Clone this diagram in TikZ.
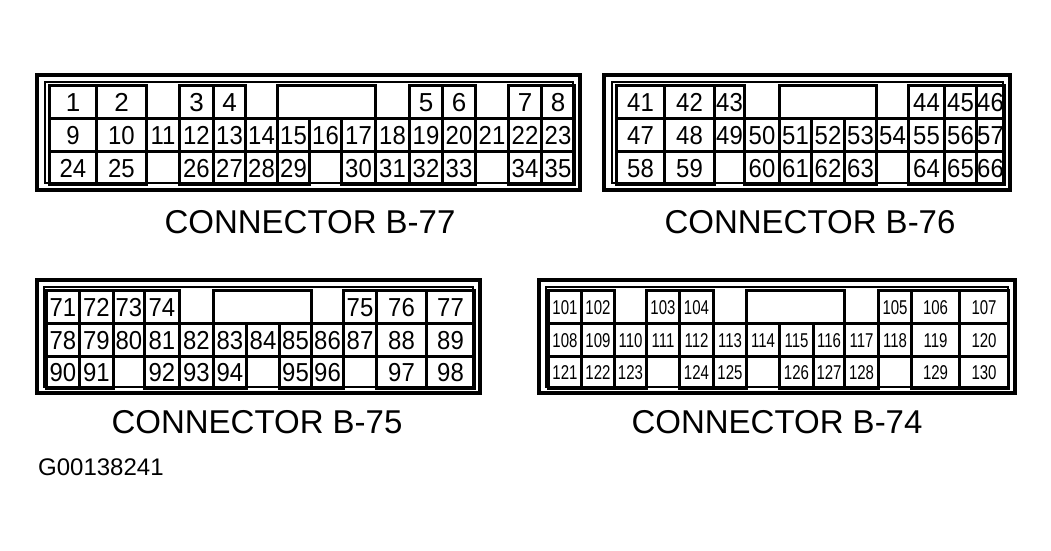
\documentclass[tikz,border=0pt]{standalone}
\usepackage{fontspec}
\setmainfont{Liberation Sans}
\begin{document}
\begin{tikzpicture}[x=1pt,y=-1pt,
  cell/.style={draw,line width=3pt,inner sep=0pt,anchor=north west,text depth=0pt},
  frame/.style={draw,line width=4pt},
  iframe/.style={draw,line width=2pt},
  title/.style={font=\fontsize{33}{33}\selectfont,inner sep=0pt}]
\useasboundingbox (0,0) rectangle (1051,550);
\newcommand{\crow}[5]{% y1, y2, scale, fontsize, list
  \foreach \a/\b/\l in {#5}{
    \node[cell,minimum width={(\b-\a)*1pt},minimum height={(#2-#1)*1pt},
      text height={0.716*#4pt},
      font=\fontsize{#4}{#4}\selectfont] (c\l) at (\a,#1)
      {\scalebox{#3}[1]{\ifnum\l>900 \else\l\fi}};
  }}
% B-77
\draw[frame] (37,75) rectangle (580,190);
\draw[iframe] (45,82) rectangle (573,183);
\crow{84}{117}{1}{26}{48/95/1,95/145/2,178/212/3,212/244/4,276/374/901,408/441/5,441/474/6,507/540/7,540/573/8}
\crow{117}{150}{0.92}{26}{48/95/9,95/145/10,145/178/11,178/212/12,212/244/13,244/276/14,276/308/15,308/340/16,340/374/17,374/408/18,408/441/19,441/474/20,474/507/21,507/540/22,540/573/23}
\crow{150}{183}{0.92}{26}{48/95/24,95/145/25,178/212/26,212/244/27,244/276/28,276/308/29,340/374/30,374/408/31,408/441/32,441/474/33,507/540/34,540/573/35}
\node[title] (t77) at (310,222) {CONNECTOR B-77};
% B-76
\draw[frame] (604,75) rectangle (1010,190);
\draw[iframe] (612,82) rectangle (1003,183);
\crow{84}{117}{0.92}{26}{615/663/41,663/713/42,713/743/43,778/875/902,907/943/44,943/975/45,975/1003/46}
\crow{117}{150}{0.92}{26}{615/663/47,663/713/48,713/743/49,743/778/50,778/810/51,810/843/52,843/875/53,875/907/54,907/943/55,943/975/56,975/1003/57}
\crow{150}{183}{0.92}{26}{615/663/58,663/713/59,743/778/60,778/810/61,810/843/62,843/875/63,907/943/64,943/975/65,975/1003/66}
\node[title] (t76) at (810,222) {CONNECTOR B-76};
% B-75
\draw[frame] (37,280) rectangle (480,393);
\draw[iframe] (44,287) rectangle (473,387);
\crow{289}{322}{0.92}{26}{45/78/71,78/112/72,112/143/73,143/178/74,212/310/903,342/375/75,375/425/76,425/473/77}
\crow{322}{355}{0.92}{26}{45/78/78,78/112/79,112/143/80,143/178/81,178/212/82,212/245/83,245/278/84,278/310/85,310/342/86,342/375/87,375/425/88,425/473/89}
\crow{355}{387}{0.92}{26}{45/78/90,78/112/91,143/178/92,178/212/93,212/245/94,278/310/95,310/342/96,375/425/97,425/473/98}
\node[title] (t75) at (257,422) {CONNECTOR B-75};
% B-74
\draw[frame] (539,280) rectangle (1015,393);
\draw[iframe] (546,287) rectangle (1008,387);
\crow{289}{322}{0.75}{20}{547/580/101,580/613/102,645/678/103,678/712/104,745/843/904,877/910/105,910/958/106,958/1007/107}
\crow{322}{355}{0.75}{20}{547/580/108,580/613/109,613/645/110,645/678/111,678/712/112,712/745/113,745/778/114,778/812/115,812/843/116,843/877/117,877/910/118,910/958/119,958/1007/120}
\crow{355}{387}{0.75}{20}{547/580/121,580/613/122,613/645/123,678/712/124,712/745/125,778/812/126,812/843/127,843/877/128,910/958/129,958/1007/130}
\node[title] (t74) at (777,422) {CONNECTOR B-74};
\node[font=\fontsize{24}{24}\selectfont,anchor=west,inner sep=0pt] (g) at (38,467) {G00138241};
\end{tikzpicture}
\end{document}
